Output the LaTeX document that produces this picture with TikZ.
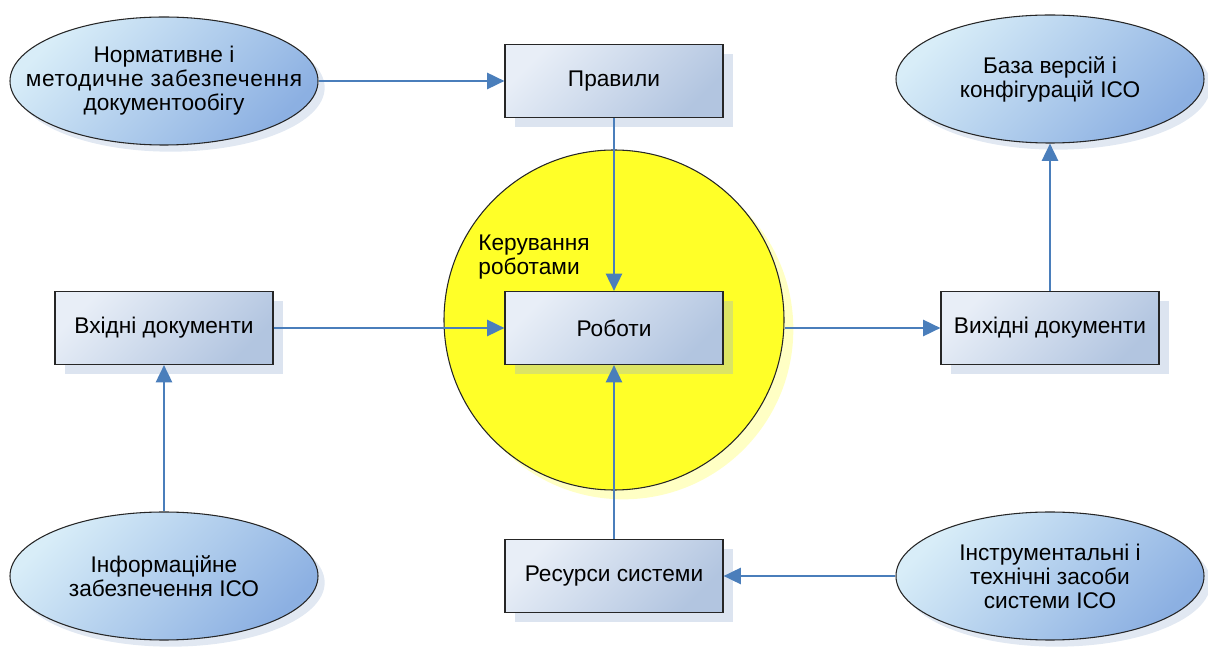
\documentclass[tikz,border=0pt]{standalone}
\usepackage{fontspec}
\setmainfont{Liberation Sans}
\usepackage{tikz}
\usepackage{xcolor}
\usetikzlibrary{shapes.geometric, shadows, arrows.meta}

\definecolor{strilkacol}{RGB}{74,126,187}
\definecolor{bloksvit}{RGB}{232,238,247}
\definecolor{bloktemn}{RGB}{178,197,224}
\definecolor{elipsvit}{RGB}{216,237,248}
\definecolor{elipstemn}{RGB}{140,176,226}
\definecolor{tinsyn}{RGB}{155,178,212}
\definecolor{zhovtyi}{RGB}{255,255,40}
\definecolor{tinzhovt}{RGB}{255,255,196}

\begin{document}
\begin{tikzpicture}[x=0.75pt, y=-0.75pt,
    font=\fontsize{17}{18}\selectfont,
    blok/.style={rectangle, draw=black!85, line width=0.8pt,
        minimum width=163.5pt, minimum height=54.75pt, align=center,
        top color=bloksvit, bottom color=bloktemn, shading angle=45,
        drop shadow={shadow xshift=7.5pt, shadow yshift=-7.5pt, fill=tinsyn, opacity=.35}},
    elips/.style={ellipse, draw=black!85, line width=0.8pt, inner sep=0pt,
        minimum width=231pt, minimum height=96pt, align=center,
        top color=elipsvit, bottom color=elipstemn, shading angle=45,
        drop shadow={shadow xshift=5pt, shadow yshift=-5pt, fill=tinsyn, opacity=.3}},
    strilka/.style={draw=strilkacol, line width=2pt,
        -{Triangle[length=13pt, width=12pt]}}]
    \useasboundingbox (0,0) rectangle (1208,648);

    \node[circle, draw=black!85, line width=0.8pt, fill=zhovtyi, minimum size=255pt,
        drop shadow={shadow xshift=7pt, shadow yshift=-7pt, fill=tinzhovt, opacity=1}]
        (keruv) at (614,320) {};
    \node[align=left, inner sep=0pt] (keruvtxt) at (534,257) {Керування\\роботами};

    \node[elips, label={[align=center]center:Нормативне і\\{\addfontfeatures{LetterSpace=3}методичне забезпечення}\\документообігу}]
        (norm) at (164,81) {};
    \node[elips] (baza) at (1050,79) {База версій і\\конфігурацій ІСО};
    \node[elips] (info) at (164,576) {Інформаційне\\забезпечення ІСО};
    \node[elips] (instr) at (1050,576) {Інструментальні і\\технічні засоби\\системи ІСО};

    \node[blok] (prav) at (614,81) {Правили};
    \node[blok] (rob) at (614,328) {Роботи};
    \node[blok] (vhid) at (164,328) {Вхідні документи};
    \node[blok] (vyhid) at (1050,328) {Вихідні документи};
    \node[blok] (resurs) at (614,576) {Ресурси системи};

    \draw[strilka] (norm) -- (prav);
    \draw[strilka] (prav) -- (rob);
    \draw[strilka] (vhid) -- (rob);
    \draw[strilka] (keruv.east |- rob) -- (vyhid);
    \draw[strilka] (vyhid) -- (baza);
    \draw[strilka] (info) -- (vhid);
    \draw[strilka] (resurs) -- (rob);
    \draw[strilka] (instr) -- (resurs);
\end{tikzpicture}
\end{document}
